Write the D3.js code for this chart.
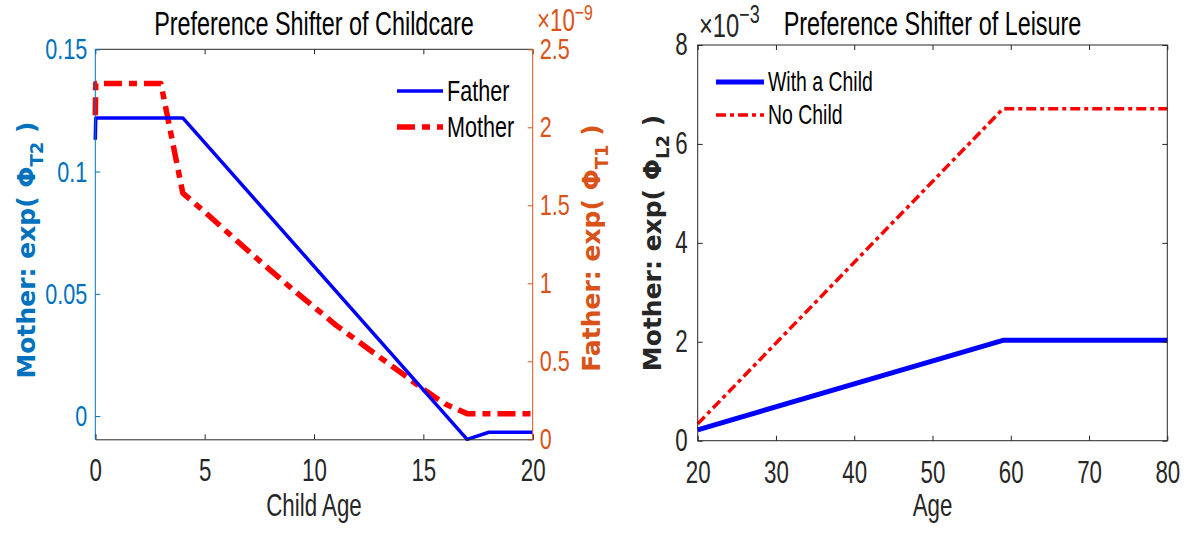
<!DOCTYPE html>
<html>
<head>
<meta charset="utf-8">
<script src="https://cdn.jsdelivr.net/npm/d3@7"></script>
<style>
  html, body { margin: 0; padding: 0; background: #fff; }
  svg { display: block; }
</style>
</head>
<body>
<svg id="chart" width="1187" height="534"></svg>
<script>
// ---------------- DATA ----------------
// Left panel: Preference Shifter of Childcare
const fatherAge = [0, 0.02, 4, 17, 18, 20];
const fatherVal = [1.92, 2.06, 2.06, 0, 0.045, 0.045];           // x 1e-9 (right axis)
const motherAge = [0, 0.02, 3, 4, 5, 6, 7, 8, 9, 10, 11, 12, 13, 14, 15, 16, 17, 18, 19, 20];
const motherVal = [0.123, 0.136, 0.136, 0.0912, 0.0835, 0.0755, 0.0675, 0.0597, 0.052, 0.0446,
                   0.0372, 0.0307, 0.0241, 0.0176, 0.011, 0.0049, 0.001, 0.001, 0.001, 0.001]; // left axis
const childAgeTicks = [0, 5, 10, 15, 20];
const leftYTicks = [0, 0.05, 0.1, 0.15];
const leftYTickLabels = ["0", "0.05", "0.1", "0.15"];
const rightYTicks = [0, 0.5, 1, 1.5, 2, 2.5];
const rightYTickLabels = ["0", "0.5", "1", "1.5", "2", "2.5"];

// Right panel: Preference Shifter of Leisure
const adultAge = [20, 59, 80];
const withChild = [0.22, 2.03, 2.03];   // x 1e-3
const noChild = [0.34, 6.71, 6.71];     // x 1e-3
const ageTicks = [20, 30, 40, 50, 60, 70, 80];
const leisureYTicks = [0, 2, 4, 6, 8];

// ---------------- STYLE ----------------
const narrow = "'Liberation Sans', Arial, sans-serif";
const SX = 0.72; // horizontal compression to mimic a tall, narrow face
const wide = "'DejaVu Sans', Verdana, sans-serif";
const cBlueAx = "#0072BD", cOrangeAx = "#D95319", cDark = "#262626";

const svg = d3.select("#chart");

function nText(x, y, str, size, anchor, color) {
  return svg.append("text")
    .attr("transform", `translate(${x},${y}) scale(${SX},1)`)
    .attr("text-anchor", anchor).attr("font-family", narrow)
    .attr("font-size", size).attr("fill", color).text(str);
}
function narrowTicks(g, size, color) {
  g.selectAll(".tick text").each(function() {
    const t = d3.select(this);
    const x = +t.attr("x") || 0;
    t.attr("x", x / SX).attr("transform", `scale(${SX},1)`)
      .attr("font-family", narrow).attr("font-size", size).attr("fill", color);
  });
}

// ============ LEFT PANEL ============
const L = {x0: 95.3, x1: 532.7, y0: 49.3, y1: 439.3};
const xL = d3.scaleLinear([0, 20], [L.x0, L.x1]);
const yLl = d3.scaleLinear([-0.0095, 0.15], [L.y1, L.y0]);
const yLr = d3.scaleLinear([0, 2.5], [L.y1, L.y0]);

// mother line (left axis)
const motherPts = motherAge.map((a, i) => [a, motherVal[i]]);
svg.append("path")
  .attr("d", d3.line().x(d => xL(d[0])).y(d => yLl(d[1]))(motherPts))
  .attr("fill", "none").attr("stroke", "#FF0000").attr("stroke-width", 5.5)
  .attr("stroke-dasharray", "18,7,8,7").attr("stroke-linejoin", "round");

// father line (right axis)
const fatherPts = fatherAge.map((a, i) => [a, fatherVal[i]]);
svg.append("path")
  .attr("d", d3.line().x(d => xL(d[0])).y(d => yLr(d[1]))(fatherPts))
  .attr("fill", "none").attr("stroke", "#0000FF").attr("stroke-width", 3.5)
  .attr("stroke-linejoin", "round");

// frame
svg.append("line").attr("x1", L.x0).attr("x2", L.x1).attr("y1", L.y0).attr("y2", L.y0)
  .attr("stroke", cDark).attr("stroke-width", 1);

// bottom axis
const gxL = svg.append("g").attr("transform", `translate(0,${L.y1})`)
  .call(d3.axisBottom(xL).tickValues(childAgeTicks).tickSize(-5).tickPadding(20).tickFormat(d3.format("d")));
gxL.select(".domain").attr("stroke", cDark);
gxL.selectAll(".tick line").attr("stroke", cDark);
narrowTicks(gxL, 31, cDark);
// top ticks
svg.append("g").attr("transform", `translate(0,${L.y0})`)
  .call(d3.axisTop(xL).tickValues(childAgeTicks).tickSize(-5).tickFormat(""))
  .call(g => g.select(".domain").remove())
  .selectAll(".tick line").attr("stroke", cDark);

// left y axis (blue)
const gyLl = svg.append("g").attr("transform", `translate(${L.x0},0)`)
  .call(d3.axisLeft(yLl).tickValues(leftYTicks).tickSize(-5).tickPadding(8)
    .tickFormat((d, i) => leftYTickLabels[i]));
gyLl.select(".domain").attr("d", `M0,${L.y1}V${L.y0}`).attr("stroke", cBlueAx);
gyLl.selectAll(".tick line").attr("stroke", cBlueAx);
narrowTicks(gyLl, 30, cBlueAx);

// right y axis (orange)
const gyLr = svg.append("g").attr("transform", `translate(${L.x1},0)`)
  .call(d3.axisRight(yLr).tickValues(rightYTicks).tickSize(-5).tickPadding(7)
    .tickFormat((d, i) => rightYTickLabels[i]));
gyLr.select(".domain").attr("d", `M0,${L.y1}V${L.y0}`).attr("stroke", cOrangeAx);
gyLr.selectAll(".tick line").attr("stroke", cOrangeAx);
narrowTicks(gyLr, 30, cOrangeAx);

// exponent label x10^-9
const expL = nText(537, 31, "", 31, "start", cOrangeAx);
expL.append("tspan").text("×10");
expL.append("tspan").attr("dy", -11).attr("font-size", 22).text("−9");

// title
nText((L.x0 + L.x1) / 2, 35, "Preference Shifter of Childcare", 32.5, "middle", "#000");
// x label
nText((L.x0 + L.x1) / 2, 516, "Child Age", 31, "middle", cDark);

// y labels
function yLabel(x, y, main, sub, color) {
  const t = svg.append("text").attr("transform", `translate(${x},${y}) rotate(-90)`)
    .attr("text-anchor", "middle").attr("font-family", wide).attr("font-weight", "bold")
    .attr("font-size", 25).attr("fill", color);
  t.append("tspan").text(main);
  t.append("tspan").attr("dy", 8).attr("font-size", 18).text(sub);
  t.append("tspan").attr("dy", -8).text(" )");
}
yLabel(35, 250, "Mother: exp( Φ", "T2", cBlueAx);
yLabel(600, 248, "Father: exp( Φ", "T1", cOrangeAx);

// legend
const legL = [{label: "Father", color: "#0000FF", w: 3.5, dash: null, y: 91},
              {label: "Mother", color: "#FF0000", w: 5.5, dash: "18,7,8,7", y: 127}];
legL.forEach(d => {
  svg.append("line").attr("x1", 397).attr("x2", 443).attr("y1", d.y).attr("y2", d.y)
    .attr("stroke", d.color).attr("stroke-width", d.w).attr("stroke-dasharray", d.dash);
  nText(447, d.y + 10, d.label, 30, "start", "#000");
});

// ============ RIGHT PANEL ============
const R = {x0: 697.7, x1: 1167.3, y0: 45, y1: 440.7};
const xR = d3.scaleLinear([20, 80], [R.x0, R.x1]);
const yR = d3.scaleLinear([0, 8], [R.y1, R.y0]);

const lineR = d3.line().x(d => xR(d[0])).y(d => yR(d[1]));
svg.append("path")
  .attr("d", lineR(adultAge.map((a, i) => [a, withChild[i]])))
  .attr("fill", "none").attr("stroke", "#0000FF").attr("stroke-width", 5).attr("stroke-linejoin", "round");
svg.append("path")
  .attr("d", lineR(adultAge.map((a, i) => [a, noChild[i]])))
  .attr("fill", "none").attr("stroke", "#FF0000").attr("stroke-width", 3.5)
  .attr("stroke-dasharray", "10,4,4,4").attr("stroke-linejoin", "round");

// frame
svg.append("rect").attr("x", R.x0).attr("y", R.y0).attr("width", R.x1 - R.x0).attr("height", R.y1 - R.y0)
  .attr("fill", "none").attr("stroke", cDark).attr("stroke-width", 1);

const gxR = svg.append("g").attr("transform", `translate(0,${R.y1})`)
  .call(d3.axisBottom(xR).tickValues(ageTicks).tickSize(-5).tickPadding(20).tickFormat(d3.format("d")));
gxR.select(".domain").remove();
gxR.selectAll(".tick line").attr("stroke", cDark);
narrowTicks(gxR, 31, cDark);
svg.append("g").attr("transform", `translate(0,${R.y0})`)
  .call(d3.axisTop(xR).tickValues(ageTicks).tickSize(-5).tickFormat(""))
  .call(g => g.select(".domain").remove())
  .selectAll(".tick line").attr("stroke", cDark);

const gyR = svg.append("g").attr("transform", `translate(${R.x0},0)`)
  .call(d3.axisLeft(yR).tickValues(leisureYTicks).tickSize(-5).tickPadding(10).tickFormat(d3.format("d")));
gyR.select(".domain").remove();
gyR.selectAll(".tick line").attr("stroke", cDark);
narrowTicks(gyR, 31, cDark);
svg.append("g").attr("transform", `translate(${R.x1},0)`)
  .call(d3.axisRight(yR).tickValues(leisureYTicks).tickSize(-5).tickFormat(""))
  .call(g => g.select(".domain").remove())
  .selectAll(".tick line").attr("stroke", cDark);

const expR = nText(699, 37, "", 33, "start", cDark);
expR.append("tspan").text("×10");
expR.append("tspan").attr("dy", -14).attr("font-size", 25).text("−3");

nText((R.x0 + R.x1) / 2, 35, "Preference Shifter of Leisure", 32.5, "middle", "#000");
nText((R.x0 + R.x1) / 2, 516, "Age", 31, "middle", cDark);

yLabel(661, 243, "Mother: exp( Φ", "L2", cDark);

const legR = [{label: "With a Child", color: "#0000FF", w: 5, dash: null, y: 82},
              {label: "No Child", color: "#FF0000", w: 3.5, dash: "10,4,4,4", y: 115}];
legR.forEach(d => {
  svg.append("line").attr("x1", 716).attr("x2", 764).attr("y1", d.y).attr("y2", d.y)
    .attr("stroke", d.color).attr("stroke-width", d.w).attr("stroke-dasharray", d.dash);
  nText(768, d.y + 9, d.label, 27, "start", "#000");
});
</script>
</body>
</html>
